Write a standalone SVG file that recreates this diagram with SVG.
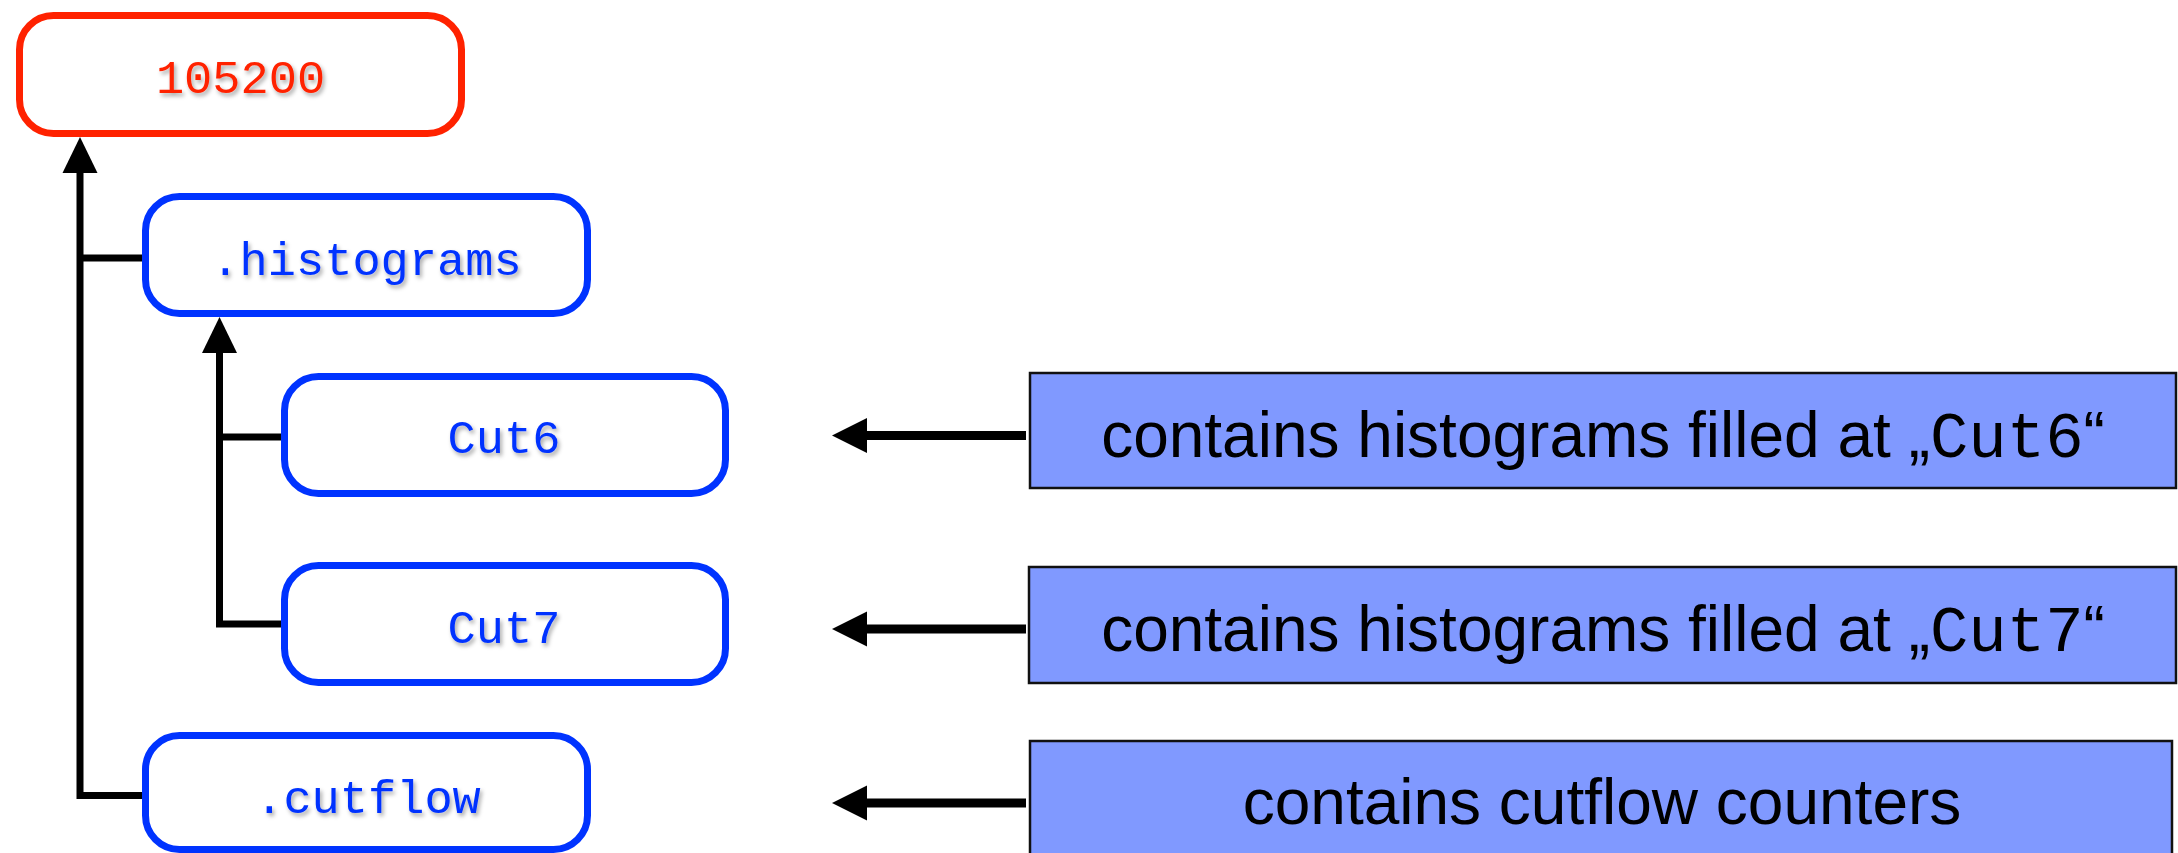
<svg xmlns="http://www.w3.org/2000/svg" width="2178" height="853" viewBox="0 0 2178 853">
  <defs>
    <filter id="soft" x="-10%" y="-40%" width="120%" height="180%">
      <feDropShadow dx="2" dy="3" stdDeviation="2" flood-color="#000" flood-opacity="0.35"/>
    </filter>
  </defs>
  <style>
    .node rect { fill: #ffffff; stroke: #0033ff; stroke-width: 7; }
    .node.root rect { stroke: #ff2200; }
    .node text { font-family: "Liberation Mono", "Courier New", monospace; font-size: 47px; text-anchor: middle; fill: #0033ff; filter: url(#soft); }
    .node.root text { fill: #ff2200; }
    .note rect { fill: #8099ff; stroke: #111111; stroke-width: 2.5; }
    .note text { font-family: "Liberation Sans", Arial, sans-serif; font-size: 64px; text-anchor: middle; fill: #000000; }
    .note .code { font-family: "Liberation Mono", "Courier New", monospace; }
    .wire { fill: none; stroke: #000000; stroke-width: 7; stroke-linecap: butt; stroke-linejoin: miter; }
    .pointer { fill: none; stroke: #000000; stroke-width: 9; }
    .tip { fill: #000000; }
  </style>

  <!-- directory tree -->
  <g id="node-105200" class="node root">
    <rect x="19.5" y="15.5" width="442" height="118" rx="34"/>
    <text x="240.5" y="93">105200</text>
  </g>
  <g id="node-histograms" class="node">
    <rect x="145.5" y="196.5" width="442" height="117" rx="34"/>
    <text x="366.5" y="275">.histograms</text>
  </g>
  <g id="node-cut6" class="node">
    <rect x="284.5" y="376.5" width="441" height="117" rx="34"/>
    <text x="504" y="453">Cut6</text>
  </g>
  <g id="node-cut7" class="node">
    <rect x="284.5" y="565.5" width="441" height="117" rx="34"/>
    <text x="504" y="643">Cut7</text>
  </g>
  <g id="node-cutflow" class="node">
    <rect x="145.5" y="735.5" width="442" height="114" rx="34"/>
    <text x="368" y="813">.cutflow</text>
  </g>

  <!-- descriptions -->
  <g id="note-cut6" class="note">
    <rect x="1030" y="373" width="1146" height="115"/>
    <text x="1603" y="457">contains histograms filled at „<tspan class="code">Cut6</tspan>“</text>
  </g>
  <g id="note-cut7" class="note">
    <rect x="1029" y="567" width="1147" height="116"/>
    <text x="1603" y="651">contains histograms filled at „<tspan class="code">Cut7</tspan>“</text>
  </g>
  <g id="note-cutflow" class="note">
    <rect x="1030" y="741" width="1142" height="130"/>
    <text x="1602" y="824">contains cutflow counters</text>
  </g>

  <!-- connectors -->
  <g id="connectors">
    <polyline class="wire" points="80,172 80,795.5 142,795.5"/>
    <line class="wire" x1="80" y1="258" x2="142" y2="258"/>
    <polygon class="tip" points="80,137 62.5,173 97.5,173"/>

    <polyline class="wire" points="219.5,352 219.5,624 281,624"/>
    <line class="wire" x1="219.5" y1="437" x2="281" y2="437"/>
    <polygon class="tip" points="219.5,317 202,353 237,353"/>

    <line class="pointer" x1="1026" y1="435.5" x2="866" y2="435.5"/>
    <polygon class="tip" points="832,435.5 867,418 867,453"/>
    <line class="pointer" x1="1026" y1="629" x2="866" y2="629"/>
    <polygon class="tip" points="832,629 867,611.5 867,646.5"/>
    <line class="pointer" x1="1026" y1="803" x2="866" y2="803"/>
    <polygon class="tip" points="832,803 867,785.5 867,820.5"/>
  </g>
</svg>
